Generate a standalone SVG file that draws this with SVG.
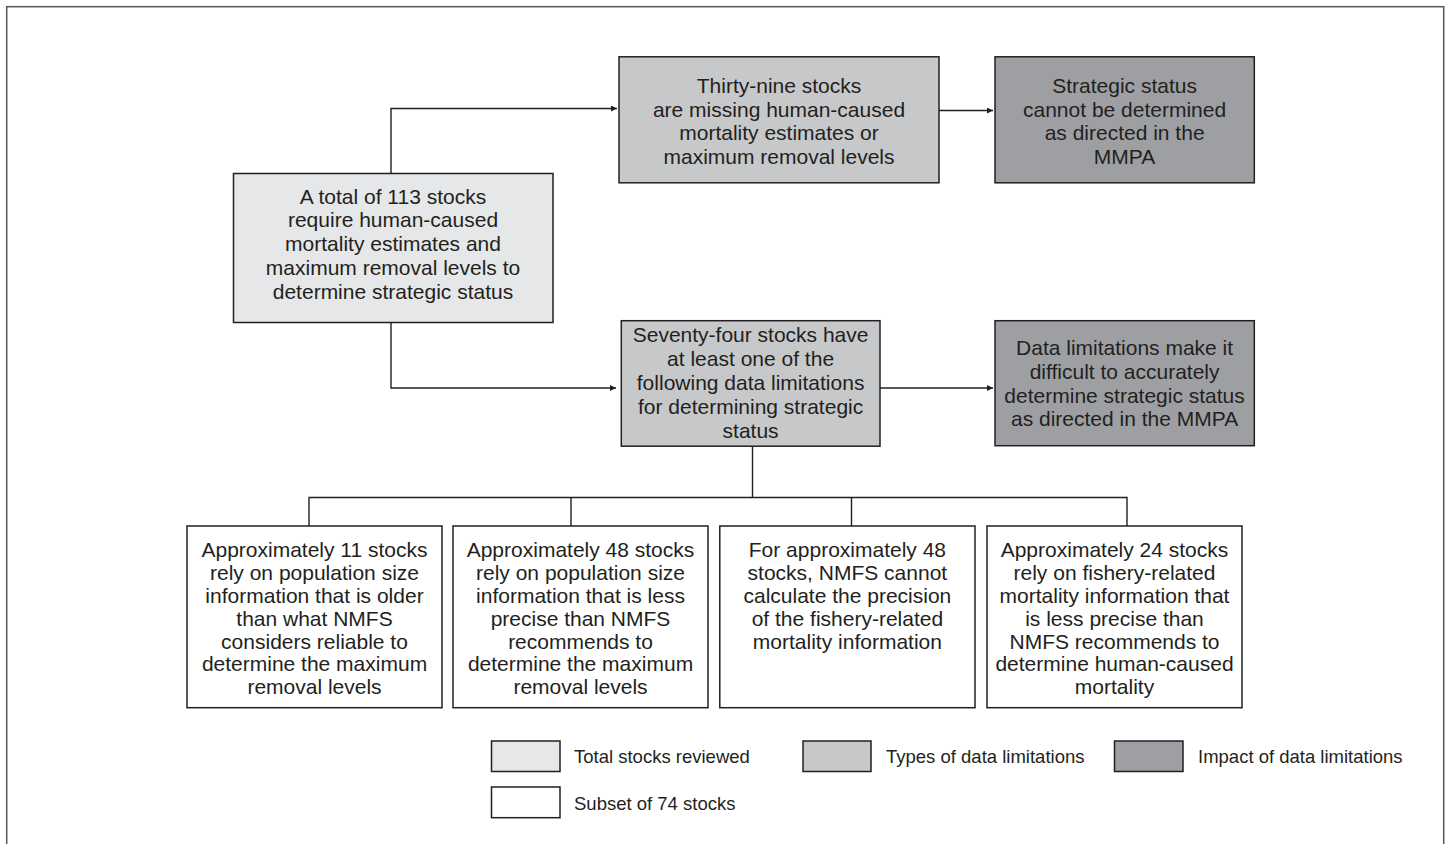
<svg xmlns="http://www.w3.org/2000/svg" width="1449" height="844" viewBox="0 0 1449 844">
<style>
.box{stroke:#231f20;stroke-width:1.5}
.l1{fill:#e6e7e8}.l2{fill:#c7c8ca}.l3{fill:#9d9fa2}.l0{fill:#ffffff}
text{font-family:"Liberation Sans",Arial,sans-serif;font-size:21px;fill:#231f20;text-anchor:middle}
.lg{font-size:18.5px;text-anchor:start}
.cn{fill:none;stroke:#231f20;stroke-width:1.4}
</style>
<defs>
<marker id="ah" viewBox="0 0 10 10" refX="10" refY="5" markerWidth="8" markerHeight="6" markerUnits="userSpaceOnUse" orient="auto">
<path d="M0,0 L10,5 L0,10 z" fill="#231f20"/>
</marker>
</defs>
<rect x="6.7" y="6.7" width="1437" height="860" fill="#fff" stroke="#555" stroke-width="1.5"/>
<g id="connectors">
<path class="cn" d="M391,173 V108.5 H617" marker-end="url(#ah)"/>
<path class="cn" d="M391,322.5 V388 H616" marker-end="url(#ah)"/>
<path class="cn" d="M939,110.5 H993" marker-end="url(#ah)"/>
<path class="cn" d="M880,388 H993" marker-end="url(#ah)"/>
<path class="cn" d="M752.5,446 V497.5 M309,526 V497.5 H1127 V526 M571,497.5 V526 M851.5,497.5 V526"/>
</g>
<g id="total">
<rect class="box l1" x="233.5" y="173.5" width="319.5" height="149"/>
<text x="393" y="203.5">A total of 113 stocks</text>
<text x="393" y="227.3">require human-caused</text>
<text x="393" y="251">mortality estimates and</text>
<text x="393" y="274.8">maximum removal levels to</text>
<text x="393" y="298.5">determine strategic status</text>
</g>
<g id="missing">
<rect class="box l2" x="619" y="56.8" width="320" height="126"/>
<text x="779" y="92.7">Thirty-nine stocks</text>
<text x="779" y="116.5">are missing human-caused</text>
<text x="779" y="140.3">mortality estimates or</text>
<text x="779" y="164">maximum removal levels</text>
</g>
<g id="cannot">
<rect class="box l3" x="995" y="56.8" width="259.3" height="126"/>
<text x="1124.6" y="92.7">Strategic status</text>
<text x="1124.6" y="116.5">cannot be determined</text>
<text x="1124.6" y="140.3">as directed in the</text>
<text x="1124.6" y="164">MMPA</text>
</g>
<g id="seventyfour">
<rect class="box l2" x="621.3" y="320.7" width="258.7" height="125.5"/>
<text x="750.6" y="342.3">Seventy-four stocks have</text>
<text x="750.6" y="366.3">at least one of the</text>
<text x="750.6" y="390.3">following data limitations</text>
<text x="750.6" y="414.3">for determining strategic</text>
<text x="750.6" y="438.3">status</text>
</g>
<g id="difficult">
<rect class="box l3" x="995" y="320.7" width="259.3" height="125"/>
<text x="1124.6" y="355">Data limitations make it</text>
<text x="1124.6" y="378.8">difficult to accurately</text>
<text x="1124.6" y="402.6">determine strategic status</text>
<text x="1124.6" y="426.4">as directed in the MMPA</text>
</g>
<g id="older">
<rect class="box l0" x="187" y="526" width="255" height="181.7"/>
<text x="314.5" y="557">Approximately 11 stocks</text>
<text x="314.5" y="580">rely on population size</text>
<text x="314.5" y="603">information that is older</text>
<text x="314.5" y="625.8">than what NMFS</text>
<text x="314.5" y="648.6">considers reliable to</text>
<text x="314.5" y="671.4">determine the maximum</text>
<text x="314.5" y="694.2">removal levels</text>
</g>
<g id="lessprecise">
<rect class="box l0" x="453" y="526" width="255" height="181.7"/>
<text x="580.5" y="557">Approximately 48 stocks</text>
<text x="580.5" y="580">rely on population size</text>
<text x="580.5" y="603">information that is less</text>
<text x="580.5" y="625.8">precise than NMFS</text>
<text x="580.5" y="648.6">recommends to</text>
<text x="580.5" y="671.4">determine the maximum</text>
<text x="580.5" y="694.2">removal levels</text>
</g>
<g id="cannotcalc">
<rect class="box l0" x="719.8" y="526" width="255.2" height="181.7"/>
<text x="847.4" y="557">For approximately 48</text>
<text x="847.4" y="580">stocks, NMFS cannot</text>
<text x="847.4" y="603">calculate the precision</text>
<text x="847.4" y="625.8">of the fishery-related</text>
<text x="847.4" y="648.6">mortality information</text>
</g>
<g id="fishery">
<rect class="box l0" x="987" y="526" width="255" height="181.7"/>
<text x="1114.5" y="557">Approximately 24 stocks</text>
<text x="1114.5" y="580">rely on fishery-related</text>
<text x="1114.5" y="603">mortality information that</text>
<text x="1114.5" y="625.8">is less precise than</text>
<text x="1114.5" y="648.6">NMFS recommends to</text>
<text x="1114.5" y="671.4">determine human-caused</text>
<text x="1114.5" y="694.2">mortality</text>
</g>
<g id="legend">
<rect class="box l1" x="491.5" y="741" width="68.5" height="30.5"/>
<text class="lg" x="574" y="762.5">Total stocks reviewed</text>
<rect class="box l2" x="803" y="741" width="68" height="30.5"/>
<text class="lg" x="886" y="762.5">Types of data limitations</text>
<rect class="box l3" x="1114.5" y="741" width="68.5" height="30.5"/>
<text class="lg" x="1198" y="762.5">Impact of data limitations</text>
<rect class="box l0" x="491.5" y="787" width="68.5" height="30.7"/>
<text class="lg" x="574" y="810">Subset of 74 stocks</text>
</g>
</svg>
